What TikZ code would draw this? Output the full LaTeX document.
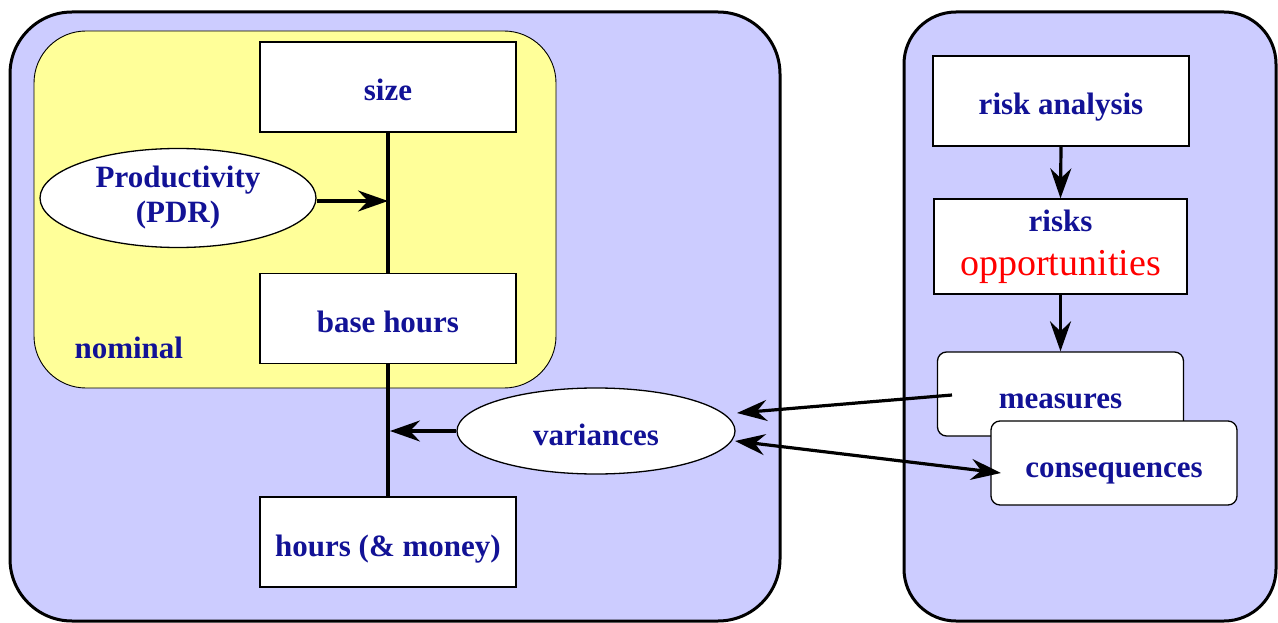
\documentclass[tikz,border=0pt]{standalone}
\usepackage{fontspec}
\setmainfont{Liberation Serif}
\usetikzlibrary{arrows.meta,shapes.geometric,calc}
\definecolor{panelblue}{RGB}{204,204,255}
\definecolor{nomyellow}{RGB}{255,255,153}
\definecolor{inkblue}{RGB}{18,18,150}
\begin{document}
\begin{tikzpicture}[x=1pt,y=-1pt,
  lbl/.style={font=\fontsize{31}{35}\selectfont\bfseries, text=inkblue},
  low/.style={text height=28pt, text depth=0pt},
  box/.style={draw, line width=1.3pt, fill=white, minimum width=256pt,
              minimum height=90pt, inner sep=0pt, lbl, low},
  rbox/.style={box, rounded corners=9pt, minimum width=246pt, minimum height=84pt},
  oval/.style={ellipse, draw, line width=1.3pt, fill=white, inner sep=0pt, lbl},
  tip/.tip={Stealth[length=30pt,width=21pt,inset=10pt]},
  flow/.style={line width=3.2pt, -tip},
  spine/.style={line width=4pt}
]
\useasboundingbox (0,0) rectangle (1278,623);
\fill[white] (0,0) rectangle (1278,623);

% panels
\draw[line width=3pt, fill=panelblue, rounded corners=62pt] (10,12) rectangle (780,621);
\draw[line width=3pt, fill=panelblue, rounded corners=52pt] (904,12) rectangle (1276,621);
\draw[line width=0.9pt, fill=nomyellow, rounded corners=52pt] (34,31) rectangle (556,388);
\node[lbl, anchor=west] (nominal) at (71,348) {nominal};

% estimation chain
\node[box] (size) at (388,87) {size};
\node[box] (base) at (388,318.5) {base hours};
\node[box] (hours) at (388,542) {hours (\& money)};
\node[oval, minimum width=276pt, minimum height=86pt] (pdr) at (178,198)
  {\raisebox{-5pt}{\begin{tabular}{@{}c@{}}Productivity\\(PDR)\end{tabular}}};
\node[oval, low, minimum width=278pt, minimum height=86pt] (var) at (596,431) {variances};

\coordinate (jpdr) at (388,201);
\coordinate (jvar) at (390,431);
\draw[spine] (size.south) -- (base.north);
\draw[spine] (base.south) -- (hours.north);
\draw[flow] (pdr.east |- jpdr) -- (jpdr);
\draw[flow] (var.west) -- (jvar);

% risk chain
\node[box] (ana) at (1061,101) {risk analysis};
\node[box, text height=, text depth=, minimum width=253pt, minimum height=95pt]
  (risks) at (1060.5,246.5)
  {\raisebox{-4pt}{\begin{tabular}{@{}c@{}}risks\\[8pt]%
   {\fontsize{38}{40}\selectfont\mdseries\color{red}opportunities}\end{tabular}}};
\node[rbox] (meas) at (1060.5,394) {measures};
\node[rbox] (cons) at (1114,463) {consequences};

\draw[flow] (ana.south) -- (risks.north);
\draw[flow] (risks.south) -- (meas.north);

% links between the panels
\coordinate (mtail) at (952,395);
\coordinate (vtop) at (737,413);
\coordinate (vbot) at (735,441);
\coordinate (ctip) at (1001,473);
\draw[flow] (mtail) -- (vtop);
\draw[line width=3.2pt, tip-tip] (vbot) -- (ctip);
\end{tikzpicture}
\end{document}
